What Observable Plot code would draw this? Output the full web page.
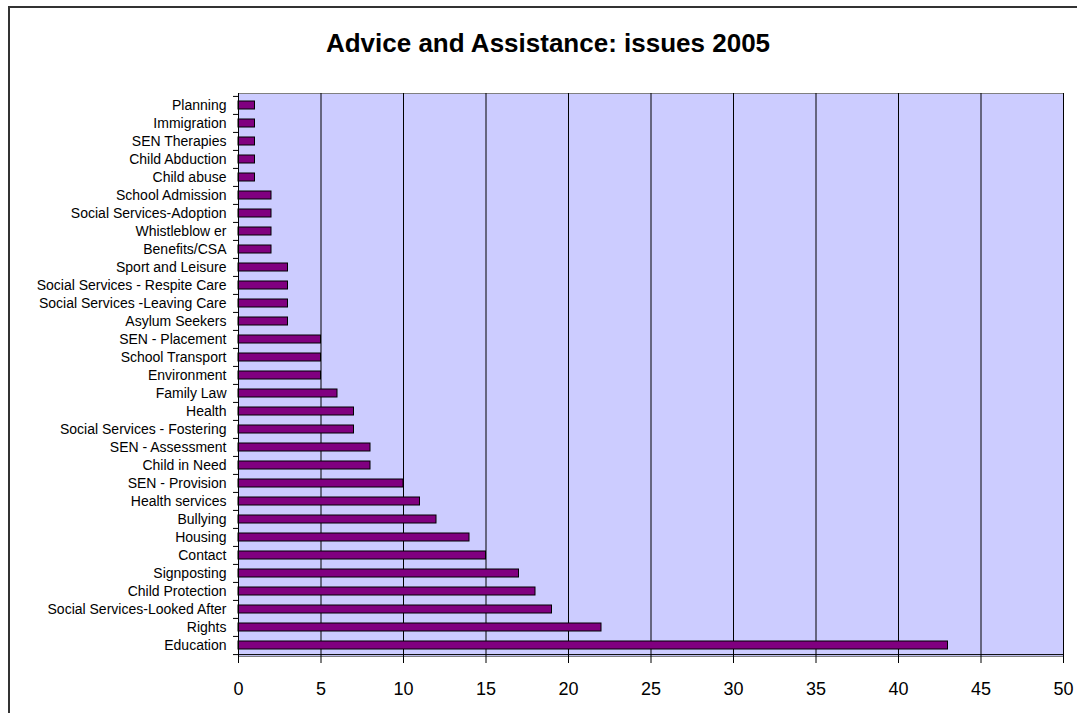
<!DOCTYPE html>
<html><head><meta charset="utf-8">
<script src="https://cdn.jsdelivr.net/npm/d3@7"></script>
<script src="https://cdn.jsdelivr.net/npm/@observablehq/plot@0.6"></script>
<style>
body{margin:0;background:#fff;}
#wrap{position:relative;width:1077px;height:713px;overflow:hidden;font-family:"Liberation Sans",Arial,sans-serif;}
#border{position:absolute;left:8px;top:6px;width:1200px;height:800px;border:2px solid #333;pointer-events:none;}
#title{height:70px;position:relative;}
#title span{position:absolute;left:0;width:1096px;top:30px;text-align:center;font-weight:bold;font-size:26px;line-height:26px;color:#000;}
#chart svg{display:block;}
</style></head><body>
<div id="wrap"><div id="title"><span>Advice and Assistance: issues 2005</span></div><div id="chart"></div><div id="border"></div></div>
<script>
const categories = ["Education","Rights","Social Services-Looked After","Child Protection","Signposting","Contact","Housing","Bullying","Health services","SEN - Provision","Child in Need","SEN - Assessment","Social Services - Fostering","Health","Family Law","Environment","School Transport","SEN - Placement","Asylum Seekers","Social Services -Leaving Care","Social Services - Respite Care","Sport and Leisure","Benefits/CSA","Whistleblow er","Social Services-Adoption","School Admission","Child abuse","Child Abduction","SEN Therapies","Immigration","Planning"];
const values = [43,22,19,18,17,15,14,12,11,10,8,8,7,7,6,5,5,5,3,3,3,3,2,2,2,2,1,1,1,1,1];
const xTicks = [0,5,10,15,20,25,30,35,40,45,50];

const W = 1077, H = 643, mt = 23, mb = 57, ml = 238, mr = 14;
const step = (H - mt - mb) / categories.length;
const data = categories.map((c, i) => ({category: c, value: values[i]}));

const chart = Plot.plot({
  width: W, height: H, marginTop: mt, marginBottom: mb, marginLeft: ml, marginRight: mr,
  style: {fontFamily: "Liberation Sans, Arial, sans-serif", background: "transparent", color: "#000", overflow: "visible"},
  x: {domain: [0, 50]},
  y: {domain: categories.slice().reverse(), paddingInner: 0.56, paddingOuter: 0.28},
  marks: [
    Plot.frame({fill: "#CCCCFF", stroke: "#808080"}),
    Plot.gridX(xTicks, {stroke: "#000", strokeOpacity: 1}),
    Plot.barX(data, {x: "value", y: "category", fill: "#800080", stroke: "#000", strokeWidth: 1}),
    Plot.ruleX([0], {stroke: "#000"}),
    Plot.ruleY([categories[0]], {dy: step / 2, stroke: "#000"}),
    Plot.axisX({ticks: xTicks, tickSize: 7, tickPadding: 19, fontSize: 18, label: null}),
    Plot.axisY({tickSize: 0, tickPadding: 12, fontSize: 14, label: null}),
    Plot.axisY({tickSize: 5, text: null, dy: -step / 2, label: null}),
    Plot.axisY([categories[0]], {tickSize: 5, text: null, dy: step / 2, label: null})
  ]
});
document.getElementById("chart").appendChild(chart);
</script>
</body></html>
